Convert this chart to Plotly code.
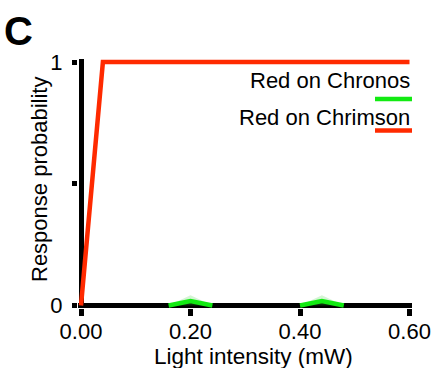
import plotly.graph_objects as go

# ---- data ----
x_vals = [0.00, 0.04, 0.08, 0.12, 0.16, 0.20, 0.24, 0.28, 0.32, 0.36, 0.40, 0.44, 0.48, 0.52, 0.56, 0.60]
red_on_chrimson = [0, 1, 1, 1, 1, 1, 1, 1, 1, 1, 1, 1, 1, 1, 1, 1]
red_on_chronos = [None, None, None, None, 0, 0.018, 0, None, None, None, 0, 0.018, 0, None, None, None]
chronos_upper = [None, None, None, None, 0, 0.042, 0, None, None, None, 0, 0.042, 0, None, None, None]
x_ticks = [0.0, 0.2, 0.4, 0.6]
x_tick_labels = ["0.00", "0.20", "0.40", "0.60"]
y_ticks = [0, 0.5, 1]
y_tick_labels = ["0", "", "1"]
series_names = ["Red on Chronos", "Red on Chrimson"]

# ---- layout geometry ----
W, H = 433, 368
L, R, T, B = 78, 21, 59, 60
PW, PH = W - L - R, H - T - B
FONT = "Arial, Liberation Sans, Helvetica, sans-serif"
RED = "#ff2a00"
GREEN = "#12ea12"


def px_x(px):
    return (px - L) / PW


def px_y(py):
    return (H - B - py) / PH


fig = go.Figure()
fig.add_trace(go.Scatter(x=x_vals, y=chronos_upper, mode="lines",
                         line=dict(color="rgba(0,200,0,0)", width=0),
                         fill="tozeroy", fillcolor="rgba(60,210,60,0.22)",
                         hoverinfo="skip", showlegend=False))
fig.add_trace(go.Scatter(x=x_vals, y=red_on_chronos, mode="lines",
                         line=dict(color=GREEN, width=4.5),
                         name=series_names[0], showlegend=False))
fig.add_trace(go.Scatter(x=x_vals, y=red_on_chrimson, mode="lines",
                         line=dict(color=RED, width=4.5),
                         name=series_names[1], showlegend=False))

fig.update_xaxes(range=[-3 / 547.5, 0.6 + 2.5 / 547.5], tickvals=x_ticks, ticktext=x_tick_labels,
                 showgrid=False, showline=False, zeroline=True, zerolinecolor="black",
                 zerolinewidth=5, ticks="outside", ticklen=7, tickwidth=5, tickcolor="black",
                 tickfont=dict(family=FONT, size=22, color="black"), ticklabelstandoff=-3,
                 automargin=False)
fig.update_yaxes(range=[-2.5 / 243.5, 1 + 3 / 243.5], tickvals=y_ticks, ticktext=y_tick_labels,
                 showgrid=False, showline=False, zeroline=True, zerolinecolor="black",
                 zerolinewidth=5, ticks="outside", ticklen=5, tickwidth=5, tickcolor="black",
                 tickfont=dict(family=FONT, size=22, color="black"), ticklabelstandoff=5,
                 automargin=False)

annotations = [
    dict(text="<b>C</b>", x=px_x(2), y=px_y(31), xanchor="left", yanchor="middle",
         font=dict(family=FONT, size=40, color="black")),
    dict(text=series_names[0], x=px_x(412), y=px_y(80), xanchor="right", yanchor="middle",
         font=dict(family=FONT, size=22, color="black")),
    dict(text=series_names[1], x=px_x(412), y=px_y(117), xanchor="right", yanchor="middle",
         font=dict(family=FONT, size=22, color="black")),
    dict(text="Light intensity (mW)", x=px_x(253), y=px_y(356), xanchor="center", yanchor="middle",
         font=dict(family=FONT, size=22.5, color="black")),
    dict(text="Response probability", x=px_x(39), y=px_y(180), xanchor="center", yanchor="middle",
         textangle=-90, font=dict(family=FONT, size=22, color="black")),
]
for a in annotations:
    a.update(xref="paper", yref="paper", showarrow=False)

shapes = [
    dict(type="line", xref="paper", yref="paper", x0=px_x(375), x1=px_x(412), y0=px_y(99), y1=px_y(99),
         line=dict(color=GREEN, width=4.5)),
    dict(type="line", xref="paper", yref="paper", x0=px_x(375), x1=px_x(412), y0=px_y(130.5), y1=px_y(130.5),
         line=dict(color=RED, width=4.5)),
]

fig.update_layout(template="none", width=W, height=H, margin=dict(l=L, r=R, t=T, b=B, pad=0),
                  paper_bgcolor="white", plot_bgcolor="white", showlegend=False,
                  annotations=annotations, shapes=shapes)

fig.write_html("out.html")
